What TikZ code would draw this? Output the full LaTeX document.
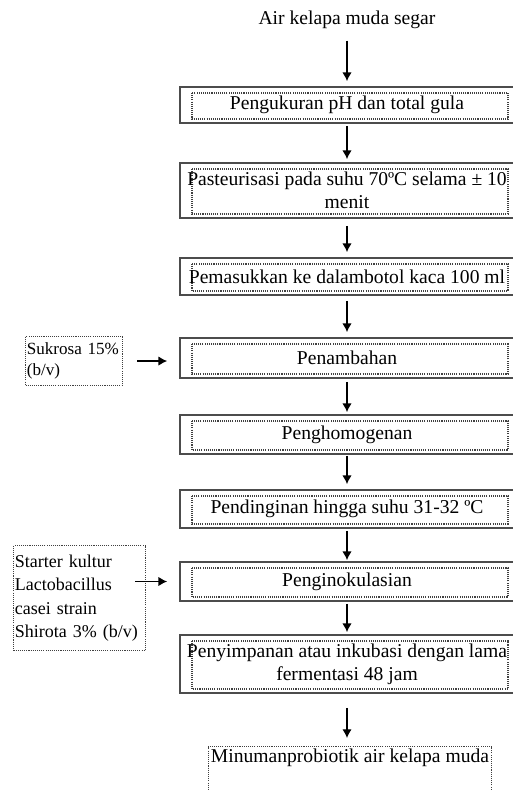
\documentclass[tikz,border=0pt]{standalone}
\usepackage{fontspec}
\setmainfont{Liberation Serif}
\usetikzlibrary{arrows.meta}

\begin{document}
\begin{tikzpicture}[x=0.75pt,y=-0.75pt]
\tikzstyle{StepStyle}=[draw=black!70, line width=1.3pt, minimum width=250.5pt, inner sep=0pt, align=center, font=\fontsize{14.7}{17}\selectfont,
  path picture={\draw[black!75, line width=0.8pt, dash pattern=on 0.8pt off 0.8pt] ([shift={(9pt,-4.5pt)}]path picture bounding box.north west) rectangle ([shift={(-4.5pt,3pt)}]path picture bounding box.south east);}]
\tikzstyle{SideStyle}=[draw=black!75, line width=0.8pt, dash pattern=on 0.8pt off 0.8pt, align=left, inner sep=1pt, anchor=north west, font=\fontsize{13.5}{17.6}\selectfont]
\tikzstyle{FlowArrow}=[-{Latex[length=6.5pt,width=7pt]}, line width=0.9pt, black]

\useasboundingbox (0,0) rectangle (512,791);

\node[font=\fontsize{14.7}{17}\selectfont] (air) at (347,20) {Air kelapa muda segar};

\node[StepStyle, minimum height=27pt] (ukur) at (347,105) {Pengukuran pH dan total gula};
\node[StepStyle, minimum height=41.25pt] (pasteur) at (347,190.5) {Pasteurisasi pada suhu 70ºC selama ± 10\\menit};
\node[StepStyle, minimum height=27.75pt] (botol) at (347,276.5) {Pemasukkan ke dalambotol kaca 100 ml};
\node[StepStyle, minimum height=30pt] (tambah) at (347,358) {Penambahan};
\node[StepStyle, minimum height=29.25pt] (homogen) at (347,434.5) {Penghomogenan};
\node[StepStyle, minimum height=28.5pt] (dingin) at (347,509) {Pendinginan hingga suhu 31-32 ºC};
\node[StepStyle, minimum height=29.25pt] (inokulasi) at (347,581.5) {Penginokulasian};
\node[StepStyle, minimum height=43.5pt] (simpan) at (347,664) {Penyimpanan atau inkubasi dengan lama\\fermentasi 48 jam};

\node[draw=black!75, line width=0.8pt, dash pattern=on 0.8pt off 0.8pt, anchor=north, minimum width=210pt, inner sep=2pt, text depth=60pt, font=\fontsize{14.7}{17}\selectfont] (minuman) at (350,746) {Minumanprobiotik air kelapa muda};

% bahan tambahan
\node[SideStyle, text width=70.75pt, minimum height=36.75pt, font=\fontsize{12.8}{16}\selectfont] (sukrosa) at (25,336) {Sukrosa~15\%\\(b/v)};
\node[SideStyle, text width=97pt, minimum height=78.75pt] (starter) at (13,545) {Starter kultur\\Lactobacillus\\casei strain\\Shirota 3\% (b/v)};

\draw[FlowArrow, shorten <=5.25pt, shorten >=3.75pt] (air) -- (ukur);
\draw[FlowArrow, shorten <=1.5pt, shorten >=2.25pt] (ukur) -- (pasteur);
\draw[FlowArrow, shorten <=5.25pt, shorten >=3.75pt] (pasteur) -- (botol);
\draw[FlowArrow, shorten <=3.75pt, shorten >=3.75pt] (botol) -- (tambah);
\draw[FlowArrow, shorten <=2.25pt, shorten >=1.5pt] (tambah) -- (homogen);
\draw[FlowArrow, shorten <=0.75pt, shorten >=3.75pt] (homogen) -- (dingin);
\draw[FlowArrow, shorten <=1.5pt, shorten >=0.75pt] (dingin) -- (inokulasi);
\draw[FlowArrow, shorten <=1.5pt, shorten >=1.5pt] (inokulasi) -- (simpan);
\draw[FlowArrow, shorten <=10.5pt, shorten >=6pt] (simpan) -- (simpan |- minuman.north);

\draw[FlowArrow, shorten <=10.5pt, shorten >=9pt] (sukrosa.east) -- (sukrosa.east -| tambah.west);
\draw[FlowArrow, shorten <=-8.25pt, shorten >=9pt] (inokulasi.west -| starter.east) -- (inokulasi.west);
\end{tikzpicture}
\end{document}
